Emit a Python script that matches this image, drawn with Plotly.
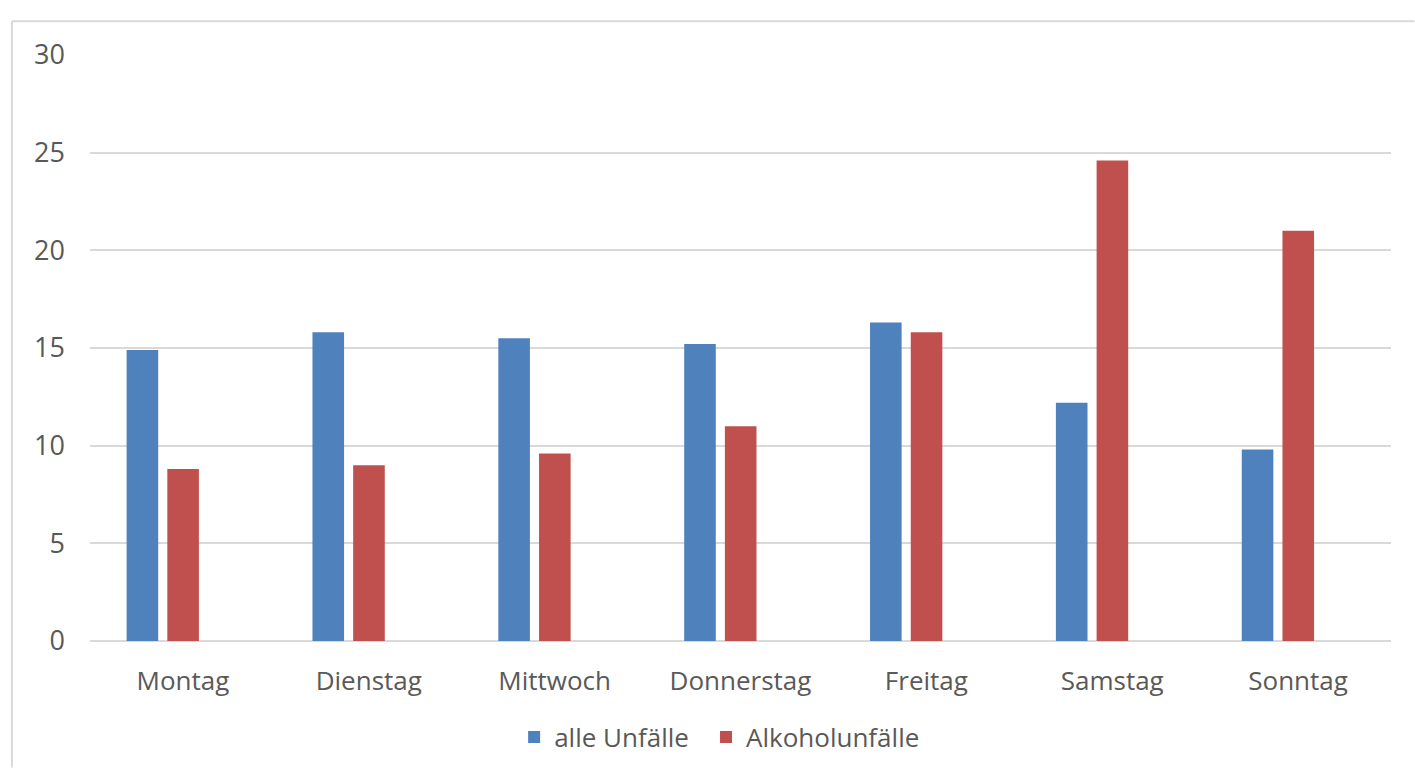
import plotly.graph_objects as go

# Wochentage und Unfallanteile (in %)
tage = ["Montag", "Dienstag", "Mittwoch", "Donnerstag", "Freitag", "Samstag", "Sonntag"]
alle_unfaelle = [14.9, 15.8, 15.5, 15.2, 16.3, 12.2, 9.8]
alkoholunfaelle = [8.8, 9.0, 9.6, 11.0, 15.8, 24.6, 21.0]
y_ticks = [0, 5, 10, 15, 20, 25, 30]

BLAU = "#4F81BD"
ROT = "#C0504D"
TEXT = "#595959"
GRID = "#D9D9D9"
FONT = "Open Sans"

fig = go.Figure()
fig.add_trace(go.Bar(
    x=tage, y=alle_unfaelle, name="alle Unfälle",
    marker=dict(color=BLAU, line=dict(width=0)),
    width=0.17, offset=-0.303, legend="legend",
))
fig.add_trace(go.Bar(
    x=tage, y=alkoholunfaelle, name="Alkoholunfälle",
    marker=dict(color=ROT, line=dict(width=0)),
    width=0.17, offset=-0.084, legend="legend2",
))

# Rahmen des Diagrammbereichs (oben und links), innerhalb der Seite gehalten
fig.add_shape(type="line", xref="paper", yref="paper",
              x0=-0.06, x1=1.018, y0=1.0576, y1=1.0576,
              line=dict(color=GRID, width=2))
fig.add_shape(type="line", xref="paper", yref="paper",
              x0=-0.06, x1=-0.06, y0=1.0576, y1=-0.216,
              line=dict(color=GRID, width=2))

legend_style = dict(
    orientation="h", xanchor="left", yanchor="middle", y=-0.164,
    font=dict(family=FONT, color=TEXT, size=26),
    bgcolor="rgba(0,0,0,0)",
)

fig.update_layout(
    width=1415, height=773,
    margin=dict(l=90, r=24, t=55, b=128),
    paper_bgcolor="white", plot_bgcolor="white",
    font=dict(family=FONT, color=TEXT, size=25),
    showlegend=True,
    legend=dict(x=0.326, **legend_style),
    legend2=dict(x=0.4735, **legend_style),
    xaxis=dict(
        type="category", showgrid=False, showline=False, zeroline=False,
        ticks="", tickfont=dict(size=26, color=TEXT, family=FONT),
        ticklabelstandoff=22,
    ),
    yaxis=dict(
        range=[0, 30], tickvals=y_ticks, showgrid=True,
        gridcolor=GRID, gridwidth=2, zeroline=True, zerolinecolor=GRID,
        zerolinewidth=2, showline=False, ticks="",
        tickfont=dict(size=27, color=TEXT, family=FONT),
        ticklabelstandoff=24,
    ),
)

# Seitenränder entfernen, damit die Grafik bündig im Fenster sitzt
fig.write_html(
    "out.html",
    post_script="document.body.style.margin='0';document.body.style.overflow='hidden';",
)
